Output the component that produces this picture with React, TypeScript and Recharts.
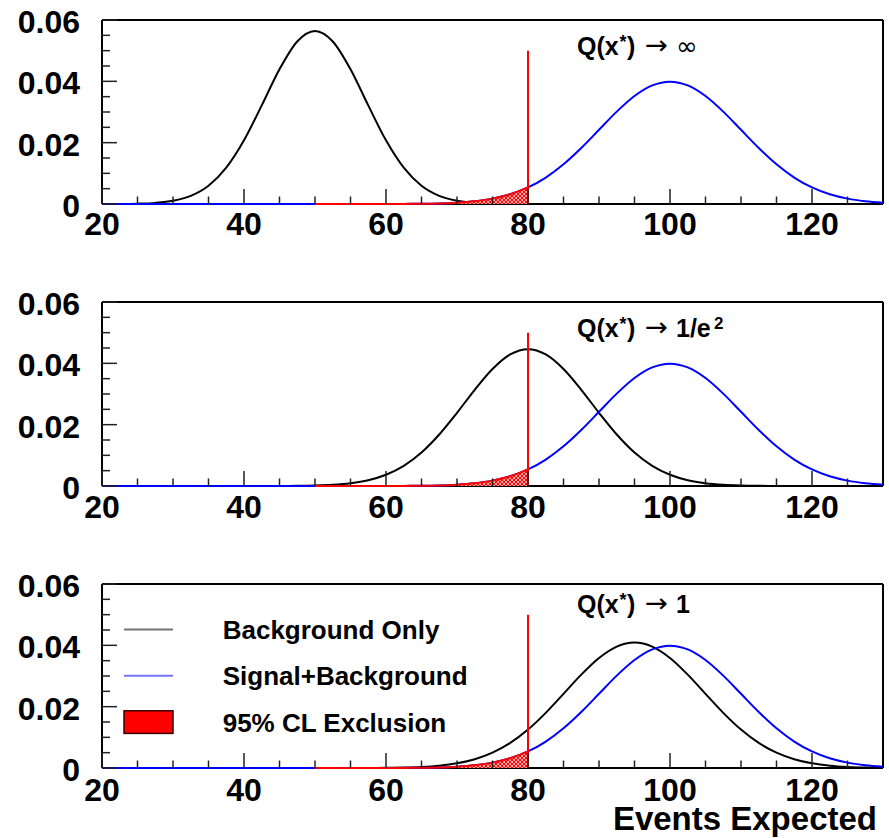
import React from 'react';
import { ComposedChart, Line, Area, XAxis, YAxis, ReferenceLine, Legend, Label } from 'recharts';

// ---------------- data ----------------
const xValues = [
  20, 22.5, 25, 27.5, 30, 32.5, 35, 37.5, 40, 42.5, 45, 47.5, 50, 52.5, 55, 57.5, 60, 62.5, 65, 67.5,
  70, 72.5, 75, 77.5, 80, 82.5, 85, 87.5, 90, 92.5, 95, 97.5, 100, 102.5, 105, 107.5, 110, 112.5, 115,
  117.5, 120, 122.5, 125, 127.5, 130,
];

// Signal+Background (blue), same in all three panels
const signalPlusBackground = [
  0, 0, 0, 0, 0, 0, 0, 0, 0, 0, 0, 0, 0, 0, 0.0000016, 0.0000048, 0.0000134, 0.0000353, 0.0000873,
  0.000203, 0.000443, 0.000909, 0.001753, 0.003174, 0.005399, 0.008628, 0.012952, 0.018265, 0.024197,
  0.030114, 0.035207, 0.038667, 0.039894, 0.038667, 0.035207, 0.030114, 0.024197, 0.018265, 0.012952,
  0.008628, 0.005399, 0.003174, 0.001753, 0.000909, 0.000443,
];

// Background only (black), panel 1: Q(x*) -> infinity
const backgroundPanel1 = [
  0.000007, 0.000029, 0.000109, 0.000357, 0.001033, 0.002639, 0.005947, 0.011826, 0.020755, 0.032146,
  0.043939, 0.053001, 0.056419, 0.053001, 0.043939, 0.032146, 0.020755, 0.011826, 0.005947, 0.002639,
  0.001033, 0.000357, 0.000109, 0.000029, 0.000007, 0.0000015, 0, 0, 0, 0, 0, 0, 0, 0, 0, 0, 0, 0, 0,
  0, 0, 0, 0, 0, 0,
];

// Background only (black), panel 2: Q(x*) -> 1/e^2
const backgroundPanel2 = [
  0, 0, 0, 0, 0, 0, 0, 0.0000006, 0.000002, 0.0000068, 0.0000211, 0.0000606, 0.000161, 0.000395,
  0.000897, 0.001885, 0.003661, 0.006578, 0.01093, 0.016798, 0.023874, 0.031382, 0.038151, 0.042894,
  0.044603, 0.042894, 0.038151, 0.031382, 0.023874, 0.016798, 0.01093, 0.006578, 0.003661, 0.001885,
  0.000897, 0.000395, 0.000161, 0.0000606, 0.0000211, 0.0000068, 0.000002, 0.0000006, 0, 0, 0,
];

// Background only (black), panel 3: Q(x*) -> 1
const backgroundPanel3 = [
  0, 0, 0, 0, 0, 0, 0, 0, 0, 0, 0, 0, 0.000001, 0.000003, 0.000009, 0.000025, 0.0000648, 0.000158,
  0.000359, 0.000764, 0.001525, 0.002851, 0.004986, 0.008166, 0.012525, 0.017984, 0.024181, 0.030443,
  0.035884, 0.039605, 0.04093, 0.039605, 0.035884, 0.030443, 0.024181, 0.017984, 0.012525, 0.008166,
  0.004986, 0.002851, 0.001525, 0.000764, 0.000359, 0.000158, 0.0000648,
];

const exclusionRange = [50, 80];
const cutValue = 80;
const cutLineTop = 0.05;

const xDomain = [20, 130];
const yDomain = [0, 0.06];
const xTicks = [20, 25, 30, 35, 40, 45, 50, 55, 60, 65, 70, 75, 80, 85, 90, 95, 100, 105, 110, 115, 120, 125];
const xMajorTicks = [20, 40, 60, 80, 100, 120];
const xMajorLabels = ['20', '40', '60', '80', '100', '120'];
const yTicks = [0, 0.005, 0.01, 0.015, 0.02, 0.025, 0.03, 0.035, 0.04, 0.045, 0.05, 0.055, 0.06];
const yMajorTicks = [0, 0.02, 0.04, 0.06];
const yMajorLabels = ['0', '0.02', '0.04', '0.06'];

const seriesNames = ['Background Only', 'Signal+Background', '95% CL Exclusion'];
const xAxisTitle = 'Events Expected';

// ---------------- styling ----------------
const FONT = "'Liberation Sans', Arial, Helvetica, sans-serif";
const SYMBOL_FONT = "'DejaVu Sans', sans-serif";
const CHART_W = 889;
const PLOT_TOP = 20;
const PLOT_H = 184;
const XAXIS_H = 40;

const findIdx = (arr: number[], v: number) => arr.findIndex((m) => Math.abs(m - v) < 1e-9);

function XTick(props: any) {
  const { x, y, payload, labelOffset } = props;
  const mi = findIdx(xMajorTicks, payload.value);
  const major = mi >= 0;
  return (
    <g>
      <line x1={x} x2={x} y1={y} y2={y - (major ? 15 : 7.5)} stroke="#222" strokeWidth={1.5} />
      {major && (
        <text x={x} y={y + labelOffset} textAnchor="middle" fontFamily={FONT} fontWeight="bold" fontSize={32} fill="#000">
          {xMajorLabels[mi]}
        </text>
      )}
    </g>
  );
}

function YTick(props: any) {
  const { x, y, payload } = props;
  const mi = findIdx(yMajorTicks, payload.value);
  const major = mi >= 0;
  return (
    <g>
      <line x1={x} x2={x + (major ? 15 : 8)} y1={y} y2={y} stroke="#222" strokeWidth={1.5} />
      {major && (
        <text x={x - 22} y={y + 13} textAnchor="end" fontFamily={FONT} fontWeight="bold" fontSize={32} fill="#000">
          {yMajorLabels[mi]}
        </text>
      )}
    </g>
  );
}

function LegendBox(props: any) {
  const payload = (props.payload || [])
    .slice()
    .sort((a: any, b: any) => seriesNames.indexOf(a.value) - seriesNames.indexOf(b.value));
  return (
    <svg width={400} height={130} style={{ display: 'block', overflow: 'visible' }}>
      {payload.map((e: any, i: number) => {
        const cy = 15.5 + i * 46.3;
        const isRect = e.type === 'rect';
        return (
          <g key={e.value}>
            {isRect ? (
              <rect x={4} y={cy - 11.3} width={49} height={22.6} fill="#ff0000" stroke="#3a0000" strokeWidth={1.5} />
            ) : (
              <line x1={4} x2={53} y1={cy} y2={cy} stroke={e.color} strokeOpacity={0.55} strokeWidth={2} />
            )}
            <text x={102.7} y={cy + 9.5} fontFamily={FONT} fontWeight="bold" fontSize={26} fill="#000">
              {e.value}
            </text>
          </g>
        );
      })}
    </svg>
  );
}

function Title({ baseline, kind }: { baseline: number; kind: number }) {
  const base = { fontFamily: FONT, fontWeight: 'bold' as const, fontSize: 25, fill: '#000' };
  return (
    <g>
      <text x={577} y={baseline} {...base}>Q(x</text>
      <text x={619.5} y={baseline - 7} {...base} fontSize={18}>*</text>
      <text x={627} y={baseline} {...base}>)</text>
      <text
        x={645}
        y={baseline - 1}
        fontFamily={SYMBOL_FONT}
        fontSize={26}
        fill="#000"
        textLength={23}
        lengthAdjust="spacingAndGlyphs"
      >
        →
      </text>
      {kind === 0 && (
        <text x={676} y={baseline} fontFamily={SYMBOL_FONT} fontSize={26} fill="#000">∞</text>
      )}
      {kind === 1 && (
        <>
          <text x={676} y={baseline} {...base}>1/e</text>
          <text x={714} y={baseline - 8} {...base} fontSize={17}>2</text>
        </>
      )}
      {kind === 2 && (
        <text x={676} y={baseline} {...base}>1</text>
      )}
    </g>
  );
}

function Panel({ top, height, background, kind, titleBaseline, last, tickLabelOffset }: any) {
  const data = xValues.map((x, i) => ({
    x,
    bg: background[i],
    sig: signalPlusBackground[i],
    excl: x >= exclusionRange[0] && x <= exclusionRange[1] ? signalPlusBackground[i] : null,
  }));
  const bottom = height - PLOT_TOP - PLOT_H - XAXIS_H;
  return (
    <div style={{ position: 'absolute', left: 0, top }}>
      <ComposedChart width={CHART_W} height={height} data={data} margin={{ top: PLOT_TOP, right: 6, bottom, left: 0 }}>
        <XAxis
          dataKey="x"
          type="number"
          domain={xDomain}
          ticks={xTicks}
          interval={0}
          tickSize={0}
          tickMargin={0}
          tickLine={false}
          tick={(p: any) => <XTick {...p} labelOffset={tickLabelOffset} />}
          axisLine={{ stroke: '#000', strokeWidth: 2 }}
          height={XAXIS_H}
          zIndex={50}
        >
          {last && (
            <Label
              content={(p: any) => {
                const vb = p.viewBox || { x: 102, y: 204, width: 781, height: 40 };
                return (
                  <text
                    x={vb.x + vb.width - 6}
                    y={vb.y + 62}
                    textAnchor="end"
                    fontFamily={FONT}
                    fontWeight="bold"
                    fontSize={33}
                    fill="#000"
                  >
                    {xAxisTitle}
                  </text>
                );
              }}
            />
          )}
        </XAxis>
        <YAxis
          type="number"
          domain={yDomain}
          ticks={yTicks}
          interval={0}
          tickSize={0}
          tickMargin={0}
          tickLine={false}
          tick={(p: any) => <YTick {...p} />}
          axisLine={{ stroke: '#000', strokeWidth: 2 }}
          width={102}
          zIndex={50}
        />
        <ReferenceLine y={yDomain[1]} stroke="#000" strokeWidth={2} />
        <ReferenceLine x={xDomain[1]} stroke="#000" strokeWidth={2} />
        <Line
          dataKey="bg"
          name={seriesNames[0]}
          type="monotone"
          stroke="#000000"
          strokeWidth={2}
          dot={false}
          activeDot={false}
          isAnimationActive={false}
          zIndex={600}
        />
        <Line
          dataKey="sig"
          name={seriesNames[1]}
          type="monotone"
          stroke="#0000ff"
          strokeWidth={2}
          dot={false}
          activeDot={false}
          isAnimationActive={false}
          zIndex={610}
        />
        <Area
          dataKey="excl"
          name={seriesNames[2]}
          type="monotone"
          stroke="#ff0000"
          strokeWidth={2}
          fill="url(#redHatch)"
          fillOpacity={1}
          legendType="rect"
          connectNulls={false}
          dot={false}
          activeDot={false}
          isAnimationActive={false}
          zIndex={620}
        />
        <ReferenceLine
          segment={[
            { x: cutValue, y: 0 },
            { x: cutValue, y: cutLineTop },
          ]}
          stroke="#ff0000"
          strokeWidth={2}
          zIndex={700}
        />
        <Title baseline={titleBaseline} kind={kind} />
        {last && (
          <Legend
            layout="vertical"
            align="center"
            verticalAlign="middle"
            wrapperStyle={{ left: 120, top: 50, width: 400, height: 130 }}
            content={(p: any) => <LegendBox {...p} />}
          />
        )}
      </ComposedChart>
    </div>
  );
}

export default function App() {
  return (
    <div style={{ position: 'absolute', left: 0, top: 0, width: 889, height: 838, background: '#fff', overflow: 'hidden' }}>
      <svg width={0} height={0} style={{ position: 'absolute' }}>
        <defs>
          <pattern id="redHatch" width={4} height={4} patternUnits="userSpaceOnUse">
            <rect width={4} height={4} fill="#ffffff" />
            <path d="M-1,1 l2,-2 M0,4 l4,-4 M3,5 l2,-2" stroke="#ff0000" strokeWidth={1.2} />
            <path d="M-1,3 l2,2 M0,0 l4,4 M3,-1 l2,2" stroke="#ff0000" strokeWidth={1.2} />
          </pattern>
        </defs>
      </svg>
      <Panel top={0} height={281} background={backgroundPanel1} kind={0} titleBaseline={55} last={false} tickLabelOffset={31} />
      <Panel top={282} height={281} background={backgroundPanel2} kind={1} titleBaseline={54.7} last={false} tickLabelOffset={32} />
      <Panel top={564} height={274} background={backgroundPanel3} kind={2} titleBaseline={48.5} last={true} tickLabelOffset={33} />
    </div>
  );
}
